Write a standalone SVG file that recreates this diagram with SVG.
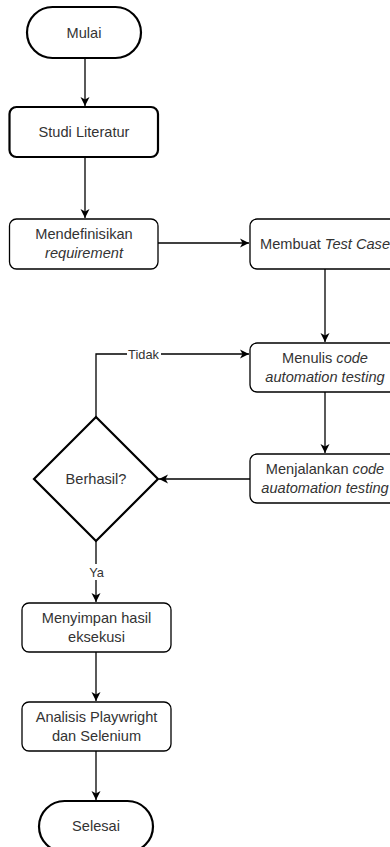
<svg xmlns="http://www.w3.org/2000/svg" width="390" height="847" viewBox="0 0 390 847">
<defs>
<marker id="arr" markerWidth="10" markerHeight="10" refX="9" refY="5" orient="auto" markerUnits="userSpaceOnUse">
<path d="M0,0.5 L9,5 L0,9.5 L2.5,5 z" fill="#000"/>
</marker>
<style>
.thick{fill:#fff;stroke:#000;stroke-width:2.2}
.box{fill:#fff;stroke:#000;stroke-width:1.3}
.t{font-family:"Liberation Sans",Arial,sans-serif;font-size:14.6px;fill:#333;text-anchor:middle;dominant-baseline:central}
.lbl{font-family:"Liberation Sans",Arial,sans-serif;font-size:12.8px;fill:#333;text-anchor:middle;dominant-baseline:central}
.i{font-style:italic}
.c{fill:none;stroke:#000;stroke-width:1.3}
</style>
</defs>
<rect width="390" height="847" fill="#fff"/>
<g id="connectors">
<path class="c" d="M85,58 V106" marker-end="url(#arr)"/>
<path class="c" d="M85,157 V218" marker-end="url(#arr)"/>
<path class="c" d="M158,243 H249" marker-end="url(#arr)"/>
<path class="c" d="M325,269 V342" marker-end="url(#arr)"/>
<path class="c" d="M325,392 V453" marker-end="url(#arr)"/>
<path class="c" d="M250,479 H159" marker-end="url(#arr)"/>
<path class="c" d="M96,417 V354 H249" marker-end="url(#arr)"/>
<rect x="127" y="346" width="34" height="16" fill="#fff"/>
<text class="lbl" x="143.5" y="354">Tidak</text>
<path class="c" d="M96,541 V602" marker-end="url(#arr)"/>
<rect x="87" y="564" width="19" height="16" fill="#fff"/>
<text class="lbl" x="96.5" y="572">Ya</text>
<path class="c" d="M96,652 V701" marker-end="url(#arr)"/>
<path class="c" d="M96,751 V800" marker-end="url(#arr)"/>
</g>
<g id="mulai">
<rect class="thick" x="27" y="7" width="114" height="51" rx="25.5"/>
<text class="t" x="84" y="32.5">Mulai</text>
</g>
<g id="studi">
<rect class="thick" x="9.5" y="107" width="148.5" height="50" rx="7"/>
<text class="t" x="84" y="132">Studi Literatur</text>
</g>
<g id="mendefinisikan">
<rect class="box" x="9.5" y="219" width="148.5" height="50" rx="7"/>
<text class="t" x="84" y="234">Mendefinisikan</text>
<text class="t i" x="84" y="253">requirement</text>
</g>
<g id="membuat">
<rect class="box" x="250" y="219" width="149" height="50" rx="7"/>
<text class="t" x="325" y="244">Membuat <tspan class="i">Test Case</tspan></text>
</g>
<g id="menulis">
<rect class="box" x="250" y="343" width="149" height="49" rx="7"/>
<text class="t" x="325" y="358">Menulis <tspan class="i">code</tspan></text>
<text class="t i" x="325" y="377">automation testing</text>
</g>
<g id="menjalankan">
<rect class="box" x="250" y="454" width="149" height="49" rx="7"/>
<text class="t" x="325" y="469">Menjalankan <tspan class="i">code</tspan></text>
<text class="t i" x="325" y="488">auatomation testing</text>
</g>
<g id="berhasil">
<polygon class="thick" points="96,417 158,479 96,541 34,479"/>
<text class="t" x="96" y="479">Berhasil?</text>
</g>
<g id="menyimpan">
<rect class="box" x="22" y="603" width="149" height="49" rx="7"/>
<text class="t" x="96.5" y="618">Menyimpan hasil</text>
<text class="t" x="96.5" y="637">eksekusi</text>
</g>
<g id="analisis">
<rect class="box" x="22" y="702" width="149" height="49" rx="7"/>
<text class="t" x="96.5" y="717">Analisis Playwright</text>
<text class="t" x="96.5" y="736">dan Selenium</text>
</g>
<g id="selesai">
<rect class="thick" x="39" y="801" width="114" height="51" rx="25.5"/>
<text class="t" x="96" y="826">Selesai</text>
</g>
</svg>
